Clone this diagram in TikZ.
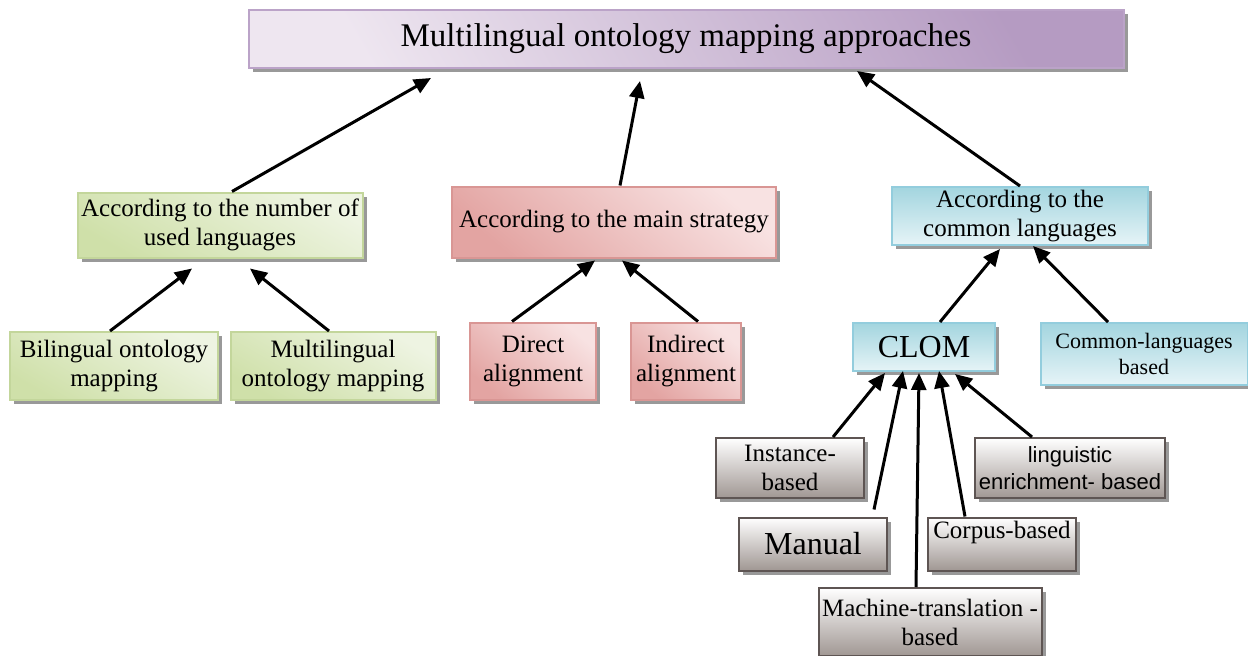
\documentclass[tikz,border=0pt]{standalone}
\usepackage{fontspec}
\setmainfont{Liberation Serif}
\newfontfamily\arialfont{Liberation Sans}
\usetikzlibrary{arrows.meta,shadows,calc}

\definecolor{titleline}{HTML}{BBA3C8}
\definecolor{titlelight}{HTML}{EEE6F0}
\definecolor{titledark}{HTML}{B59BC2}
\definecolor{greenline}{HTML}{C3D69B}
\definecolor{greenlight}{HTML}{EEF4E2}
\definecolor{greendark}{HTML}{CFE0A9}
\definecolor{redline}{HTML}{D99694}
\definecolor{redlight}{HTML}{F8E2E2}
\definecolor{reddark}{HTML}{E3A4A2}
\definecolor{blueline}{HTML}{93CDDD}
\definecolor{bluelight}{HTML}{E6F4F7}
\definecolor{bluedark}{HTML}{A3D5DF}
\definecolor{grayline}{HTML}{5E5553}
\definecolor{graylight}{HTML}{FFFFFF}
\definecolor{graydark}{HTML}{A09793}

\tikzset{
  box/.style={draw, line width=2pt, inner sep=2pt, align=center,
    font=\fontsize{25}{29}\selectfont,
    drop shadow={shadow xshift=4pt, shadow yshift=-4pt, fill=black!40, opacity=1}},
  titlebox/.style={box, draw=titleline, top color=titlelight, bottom color=titledark, shading angle=120},
  greenbox/.style={box, draw=greenline, top color=greendark, bottom color=greenlight, shading angle=150},
  redbox/.style={box, draw=redline, top color=reddark, bottom color=redlight, shading angle=140},
  bluebox/.style={box, draw=blueline, top color=bluedark, bottom color=bluelight},
  graybox/.style={box, draw=grayline, top color=graylight, bottom color=graydark},
  arr/.style={-{Triangle[length=17pt,width=15pt]}, line width=3pt}
}

\begin{document}
\begin{tikzpicture}[x=1pt,y=-1pt]
  \useasboundingbox (0,0) rectangle (1248,656);
  % Draw the top box
  \node[titlebox, minimum width=875pt, minimum height=58pt, font=\fontsize{33}{38}\selectfont]
    (title) at (686,39) {Multilingual ontology mapping approaches};
  % Draw the three groups
  \node[greenbox, minimum width=285pt, minimum height=65pt] (numb) at (220,225)
    {According to the number of\\used languages};
  \node[redbox, minimum width=324pt, minimum height=71pt] (strat) at (614,222)
    {According to the main strategy};
  \node[bluebox, minimum width=256pt, minimum height=58pt] (comlang) at (1020,216)
    {According to the\\common languages};
  % Draw the leaves of each group
  \node[greenbox, minimum width=208pt, minimum height=68pt] (bil) at (114,366)
    {Bilingual ontology\\mapping};
  \node[greenbox, minimum width=205pt, minimum height=68pt] (mul) at (333,366)
    {Multilingual\\ontology mapping};
  \node[redbox, minimum width=126pt, minimum height=77pt] (dir) at (533,361)
    {Direct\\alignment};
  \node[redbox, minimum width=110pt, minimum height=77pt] (ind) at (686,361)
    {Indirect\\alignment};
  \node[bluebox, minimum width=142pt, minimum height=48pt, font=\fontsize{32}{36}\selectfont]
    (clom) at (924,347) {CLOM};
  \node[bluebox, minimum width=207pt, minimum height=62pt, font=\fontsize{22}{26}\selectfont]
    (cbased) at (1144,354) {Common-languages\\based};
  % Draw the kinds of CLOM
  \node[graybox, minimum width=148pt, minimum height=60pt] (inst) at (790,468)
    {Instance-\\based};
  \node[graybox, minimum width=190pt, minimum height=60pt, font=\arialfont\fontsize{22}{27}\selectfont]
    (ling) at (1070,468) {linguistic\\enrichment- based};
  \node[graybox, minimum width=148pt, minimum height=53pt, font=\fontsize{32}{36}\selectfont]
    (man) at (813,544) {Manual};
  \node[graybox, minimum width=148pt, minimum height=53pt] (corp) at (1002,544)
    {Corpus-based\\\mbox{}};
  \node[graybox, minimum width=223pt, minimum height=68pt] (mach) at (930,622)
    {Machine-translation -\\based};
  % Draw the arrows
  \draw[arr] ($(numb.north)+(12,0)$) -- ($(title.south)+(-255,9)$);
  \draw[arr] ($(strat.north)+(6,0)$) -- ($(title.south)+(-46,12)$);
  \draw[arr] (comlang.north) -- ($(title.south)+(171,2)$);
  \draw[arr] ($(bil.north)+(-4,0)$) -- ($(numb.south)+(-28,10)$);
  \draw[arr] ($(mul.north)+(-4,0)$) -- ($(numb.south)+(30,10)$);
  \draw[arr] ($(dir.north)+(-21,0)$) -- ($(strat.south)+(-19,2)$);
  \draw[arr] ($(ind.north)+(12,0)$) -- ($(strat.south)+(8,2)$);
  \draw[arr] ($(clom.north)+(16,0)$) -- ($(comlang.south)+(-20,3)$);
  \draw[arr] ($(cbased.north)+(-36,0)$) -- ($(comlang.south)+(13,0)$);
  \draw[arr] ($(inst.north)+(43,0)$) -- ($(clom.south)+(-39,1)$);
  \draw[arr] ($(man.north)+(61,-7)$) -- ($(clom.south)+(-21,-1)$);
  \draw[arr] ($(mach.north)+(-14,0)$) -- ($(clom.south)+(-5,1)$);
  \draw[arr] ($(corp.north)+(-37,0)$) -- ($(clom.south)+(15,-1)$);
  \draw[arr] ($(ling.north)+(-38,0)$) -- ($(clom.south)+(31,2)$);
\end{tikzpicture}
\end{document}
